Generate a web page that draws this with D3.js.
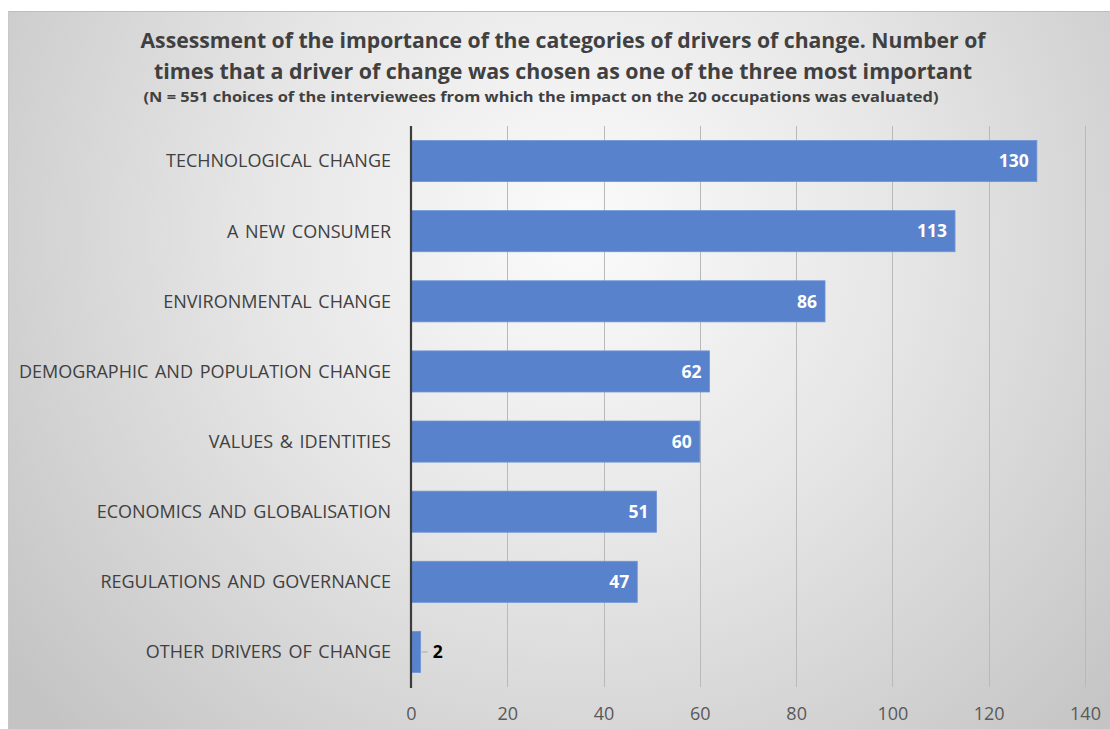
<!DOCTYPE html>
<html><head><meta charset="utf-8">
<script src="https://cdn.jsdelivr.net/npm/d3@7"></script>
<style>html,body{margin:0;padding:0;background:#fff;overflow:hidden}</style>
</head><body>
<svg id="c" width="1110" height="729"></svg>
<script>
const categories = ["TECHNOLOGICAL CHANGE","A NEW CONSUMER","ENVIRONMENTAL CHANGE","DEMOGRAPHIC AND POPULATION CHANGE","VALUES & IDENTITIES","ECONOMICS AND GLOBALISATION","REGULATIONS AND GOVERNANCE","OTHER DRIVERS OF CHANGE"];
const values = [130,113,86,62,60,51,47,2];
const tickValues = [0,20,40,60,80,100,120,140];
const titleLines = ["Assessment of the importance of the categories of drivers of change. Number of","times that a driver of change was chosen as one of the three most important"];
const subtitle = "(N = 551 choices of the interviewees from which the impact on the 20 occupations was evaluated)";

const svg = d3.select("#c");
const defs = svg.append("defs");
const g = defs.append("radialGradient").attr("id","bg").attr("gradientUnits","userSpaceOnUse")
  .attr("cx",580).attr("cy",230).attr("r",720);
g.append("stop").attr("offset","0").attr("stop-color","#fbfbfb");
g.append("stop").attr("offset","0.45").attr("stop-color","#e6e6e6");
g.append("stop").attr("offset","1").attr("stop-color","#c4c4c4");

svg.append("rect").attr("x",8).attr("y",11).attr("width",1110).attr("height",730).attr("fill","url(#bg)");
svg.append("line").attr("x1",8).attr("x2",1110).attr("y1",11.5).attr("y2",11.5).attr("stroke","#bdbdbd");
svg.append("line").attr("x1",8.5).attr("x2",8.5).attr("y1",11).attr("y2",729).attr("stroke","#c8c8c8");

const x = d3.scaleLinear().domain([0,140]).range([411,1085]);
const y = d3.scaleBand().domain(categories).range([126,687]).paddingInner(0.414).paddingOuter(0.207);

// gridlines
svg.append("g").selectAll("line").data(tickValues.slice(1)).join("line")
  .attr("x1",d=>Math.round(x(d))+0.5).attr("x2",d=>Math.round(x(d))+0.5)
  .attr("y1",126).attr("y2",687).attr("stroke","#b9b9b9").attr("stroke-width",1);

// bars
svg.append("g").selectAll("rect").data(values).join("rect")
  .attr("x",x(0)).attr("y",(d,i)=>y(categories[i]))
  .attr("width",d=>x(d)-x(0)).attr("height",y.bandwidth())
  .attr("fill","#5882cb").attr("stroke","#6f95d6").attr("stroke-width",0.8);

// axis line
svg.append("line").attr("x1",x(0)).attr("x2",x(0)).attr("y1",126).attr("y2",688)
  .attr("stroke","#3c3c3c").attr("stroke-width",2.2);

// x tick labels
const xAxis = d3.axisBottom(x).tickValues(tickValues).tickSize(0).tickPadding(0);
const xa = svg.append("g").attr("transform","translate(0,707)").call(xAxis);
xa.select(".domain").remove();
xa.selectAll("text").attr("font-family","'Open Sans',sans-serif").attr("font-size","18px")
  .attr("fill","#595959").attr("dy","0.71em");

// y category labels
const yAxis = d3.axisLeft(y).tickSize(0).tickPadding(0);
const ya = svg.append("g").attr("transform","translate(391,0)").call(yAxis);
ya.select(".domain").remove();
ya.selectAll("text").attr("font-family","'Open Sans',sans-serif").attr("font-size","18px")
  .attr("fill","#404040").attr("dy","0.35em").attr("word-spacing","2px");

// value labels
const lbl = svg.append("g");
values.forEach((v,i)=>{
  const cy = y(categories[i]) + y.bandwidth()/2;
  if (x(v)-x(0) > 40) {
    lbl.append("text").attr("x",x(v)-8).attr("y",cy).attr("dy","0.36em")
      .attr("text-anchor","end").attr("font-family","'Open Sans',sans-serif")
      .attr("font-weight","bold").attr("font-size","17.5px").attr("fill","#ffffff").text(v);
  } else {
    lbl.append("line").attr("x1",x(v)+1).attr("x2",x(v)+7).attr("y1",cy).attr("y2",cy)
      .attr("stroke","#a6a6a6").attr("stroke-width",1);
    lbl.append("text").attr("x",x(v)+12).attr("y",cy).attr("dy","0.36em")
      .attr("text-anchor","start").attr("font-family","'Open Sans',sans-serif")
      .attr("font-weight","bold").attr("font-size","17.5px").attr("fill","#000000").text(v);
  }
});

// title
const tl = svg.append("g").attr("font-family","'Open Sans',sans-serif").attr("font-weight","bold").attr("fill","#404040").attr("text-anchor","middle");
const tW = [845, 818];
titleLines.forEach((t,i)=>{
  tl.append("text").attr("x",563).attr("y",48+i*31).attr("font-size","22px")
    .attr("textLength",tW[i]).attr("lengthAdjust","spacingAndGlyphs").text(t);
});
tl.append("text").attr("x",541).attr("y",102).attr("font-size","13.5px")
  .attr("textLength",795).attr("lengthAdjust","spacingAndGlyphs").text(subtitle);
</script>
</body></html>
